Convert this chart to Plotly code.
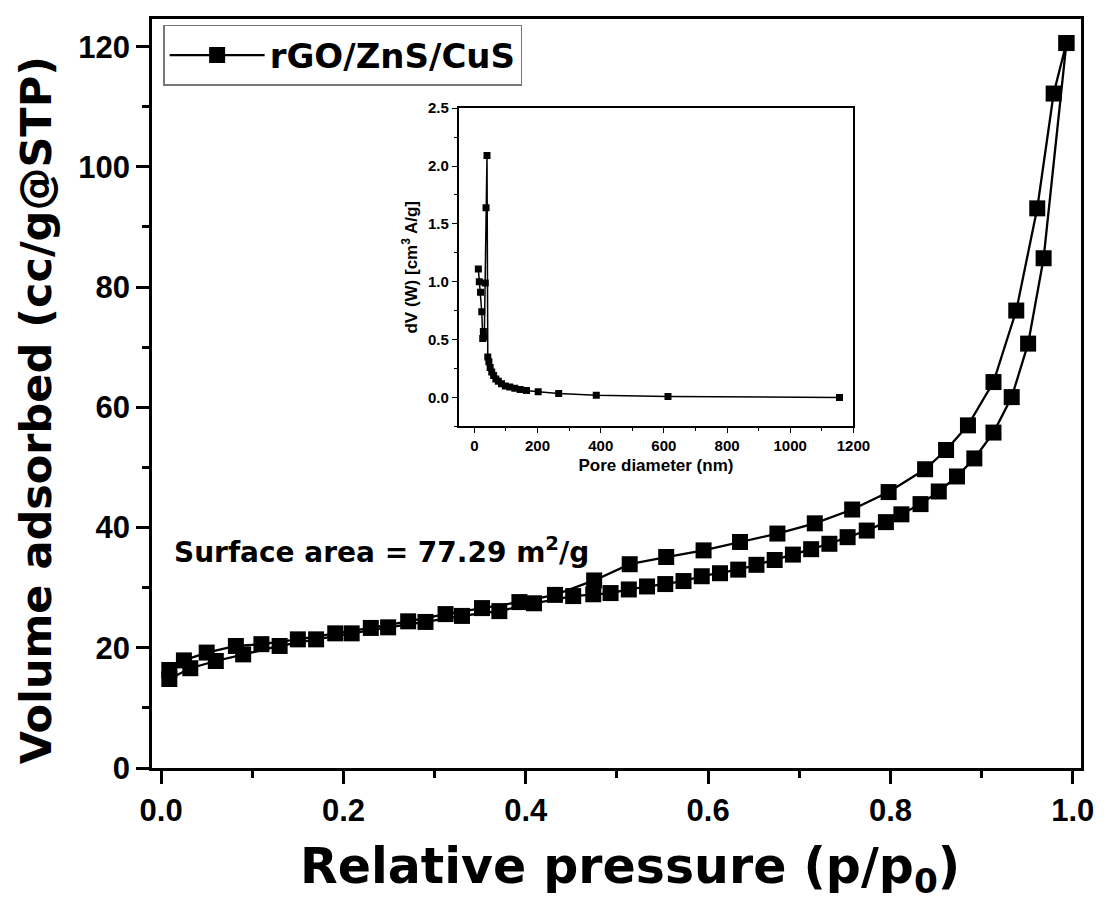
import plotly.graph_objects as go

# ---- main isotherm data (relative pressure, volume adsorbed) ----
ads_p = [0.009, 0.032, 0.060, 0.090, 0.130, 0.170, 0.209, 0.249, 0.290, 0.330,
         0.371, 0.409, 0.452, 0.474, 0.493, 0.513, 0.533, 0.553, 0.573, 0.593,
         0.613, 0.633, 0.653, 0.673, 0.693, 0.713, 0.733, 0.753, 0.774, 0.795,
         0.812, 0.833, 0.853, 0.873, 0.892, 0.913, 0.933, 0.951, 0.968, 0.993]
ads_v = [14.8, 16.6, 17.8, 18.9, 20.3, 21.4, 22.4, 23.4, 24.3, 25.3,
         26.1, 27.4, 28.6, 28.9, 29.1, 29.7, 30.2, 30.6, 31.1, 31.9,
         32.4, 33.0, 33.8, 34.6, 35.5, 36.4, 37.3, 38.4, 39.5, 40.9,
         42.2, 43.9, 46.0, 48.5, 51.5, 55.8, 61.7, 70.6, 84.8, 120.6]
des_p = [0.993, 0.979, 0.961, 0.938, 0.913, 0.885, 0.861, 0.838, 0.798, 0.758,
         0.717, 0.676, 0.635, 0.595, 0.554, 0.514, 0.475, 0.432, 0.393, 0.352,
         0.312, 0.271, 0.230, 0.191, 0.150, 0.110, 0.082, 0.050, 0.025, 0.009]
des_v = [120.6, 112.2, 93.1, 76.1, 64.2, 57.0, 52.9, 49.7, 45.9, 43.0,
         40.7, 39.0, 37.6, 36.2, 35.1, 33.9, 31.2, 28.8, 27.6, 26.6,
         25.6, 24.4, 23.3, 22.4, 21.4, 20.6, 20.3, 19.2, 17.9, 16.3]

# ---- inset pore size distribution ----
pore_d = [12.6, 15.7, 19.5, 23.5, 26.5, 28.5, 31.5, 34.5, 37.0, 40.0,
          42.5, 46, 50, 55, 61, 68, 76, 86, 98, 112,
          128, 145, 165, 202, 267, 386, 613, 1156]
pore_dv = [1.11, 1.00, 0.91, 0.74, 0.51, 0.57, 0.52, 0.99, 1.64, 2.09,
           0.35, 0.31, 0.26, 0.22, 0.19, 0.16, 0.14, 0.12, 0.10, 0.09,
           0.08, 0.07, 0.06, 0.05, 0.035, 0.02, 0.008, 0.0]

series_name = "rGO/ZnS/CuS"
x_title = "Relative pressure (p/p<sub>0</sub>)"
y_title = "Volume adsorbed (cc/g@STP)"
inset_x_title = "Pore diameter (nm)"
inset_y_title = "dV (W) [cm<sup>3</sup> A/g]"
note = "Surface area = 77.29 m<sup>2</sup>/g"

FONT = "Liberation Sans, Arial, sans-serif"
WIDE = "DejaVu Sans, Liberation Sans, sans-serif"

fig = go.Figure()
fig.add_trace(go.Scatter(
    x=ads_p + des_p, y=ads_v + des_v, mode="lines+markers", name=series_name,
    line=dict(color="black", width=2.3),
    marker=dict(symbol="square", size=16, color="black"),
))
fig.add_trace(go.Scatter(
    x=pore_d, y=pore_dv, mode="lines+markers", showlegend=False,
    xaxis="x2", yaxis="y2",
    line=dict(color="black", width=1.5),
    marker=dict(symbol="square", size=7, color="black"),
))

axis_common = dict(showline=True, linecolor="black", linewidth=2.5, mirror=True,
                   ticks="outside", tickcolor="black", tickwidth=2.5, ticklen=13,
                   showgrid=False, zeroline=False,
                   tickfont=dict(family=FONT, size=31, color="black", weight="bold"))

fig.update_layout(
    width=1108, height=902,
    margin=dict(l=152, r=19, t=10, b=134),
    paper_bgcolor="white", plot_bgcolor="white",
    font=dict(family=FONT, color="black"),
    xaxis=dict(range=[-0.01, 1.009], dtick=0.2, tickformat=".1f",
               minor=dict(ticks="outside", dtick=0.1, ticklen=7, tickwidth=2.5, tickcolor="black"),
               **axis_common),
    yaxis=dict(range=[0, 124.6], dtick=20,
               minor=dict(ticks="outside", dtick=10, ticklen=7, tickwidth=2.5, tickcolor="black"),
               **axis_common),
    xaxis2=dict(domain=[0.330, 0.755], anchor="y2", range=[-50, 1200], dtick=200,
                showline=True, linecolor="black", linewidth=1.5, mirror=True,
                ticks="outside", ticklen=5, tickwidth=1.2, tickcolor="black",
                minor=dict(ticks="outside", dtick=100, ticklen=3, tickwidth=1.2, tickcolor="black"),
                showgrid=False, zeroline=False,
                tickfont=dict(family=FONT, size=15, color="black", weight="bold"),
                title=dict(text=inset_x_title, font=dict(family=FONT, size=17, weight="bold"), standoff=6)),
    yaxis2=dict(domain=[0.456, 0.881], anchor="x2", range=[-0.25, 2.5], dtick=0.5, tickformat=".1f",
                showline=True, linecolor="black", linewidth=1.5, mirror=True,
                ticks="outside", ticklen=5, tickwidth=1.2, tickcolor="black",
                minor=dict(ticks="outside", dtick=0.25, ticklen=3, tickwidth=1.2, tickcolor="black"),
                showgrid=False, zeroline=False,
                tickfont=dict(family=FONT, size=15, color="black", weight="bold"),
                title=dict(text=inset_y_title, font=dict(family=FONT, size=17, weight="bold"), standoff=6)),
    legend=dict(x=0.012, y=0.992, xanchor="left", yanchor="top",
                bordercolor="#777", borderwidth=1.5, bgcolor="white",
                font=dict(family=WIDE, size=34, color="black", weight="bold"),
                itemwidth=95),
    showlegend=True,
)

# axis titles
fig.add_annotation(xref="paper", yref="paper", x=0.5144, y=-0.135,
                   xanchor="center", yanchor="middle", text=x_title, showarrow=False,
                   font=dict(family=WIDE, size=49, color="black", weight="bold"))
fig.add_annotation(xref="paper", yref="paper", x=-0.1249, y=0.4775,
                   xanchor="center", yanchor="middle", text=y_title, showarrow=False,
                   textangle=-90,
                   font=dict(family=WIDE, size=43, color="black", weight="bold"))

fig.add_annotation(xref="x", yref="y", x=0.012, y=36.2, xanchor="left", yanchor="middle",
                   text=note, showarrow=False,
                   font=dict(family=WIDE, size=28, color="black", weight="bold"))

fig.write_html("out.html")
